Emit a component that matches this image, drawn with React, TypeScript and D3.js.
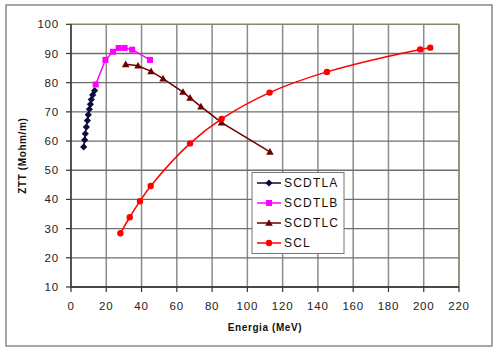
import React from "react";
import * as d3 from "d3";

const xTicks = [0, 20, 40, 60, 80, 100, 120, 140, 160, 180, 200, 220];
const yTicks = [10, 20, 30, 40, 50, 60, 70, 80, 90, 100];

const scdtlaX = [7.2, 7.75, 8.1, 8.7, 9.3, 9.8, 10.4, 11.0, 11.5, 12.3, 13.4];
const scdtlaY = [58.0, 60.4, 62.5, 64.8, 67.0, 69.0, 70.9, 72.6, 74.2, 75.8, 77.3];

const scdtlbX = [14.0, 19.5, 23.8, 27.0, 30.4, 34.7, 44.8];
const scdtlbY = [79.4, 87.8, 90.6, 91.9, 91.9, 91.3, 87.8];

const scdtlcX = [31.0, 38.0, 45.4, 52.2, 63.5, 67.5, 73.7, 85.4, 112.8];
const scdtlcY = [86.3, 85.8, 83.9, 81.4, 76.8, 74.8, 71.8, 66.3, 56.3];

const sclX = [28.0, 33.3, 39.1, 45.2, 67.5, 85.4, 112.6, 145.1, 198.0, 203.7];
const sclY = [28.4, 33.9, 39.4, 44.6, 59.2, 67.6, 76.6, 83.7, 91.4, 92.0];

const seriesNames = ["SCDTLA", "SCDTLB", "SCDTLC", "SCL"];
const seriesColors = ["#0b0b3d", "#ff00ff", "#6b0000", "#ff0000"];
const seriesShapes = ["diamond", "square", "triangle", "circle"];

const W = 499;
const H = 352;
const left = 71;
const right = 459;
const top = 24.3;
const bottom = 287;

function marker(shape: string, cx: number, cy: number, color: string, key: string | number) {
  if (shape === "diamond") {
    const s = 3.6;
    return <path key={key} d={`M${cx},${cy - s}L${cx + s},${cy}L${cx},${cy + s}L${cx - s},${cy}Z`} fill={color} />;
  }
  if (shape === "square") {
    const s = 3;
    return <rect key={key} x={cx - s} y={cy - s} width={2 * s} height={2 * s} fill={color} />;
  }
  if (shape === "triangle") {
    const s = 3.8;
    return <path key={key} d={`M${cx},${cy - s}L${cx + s},${cy + s * 0.75}L${cx - s},${cy + s * 0.75}Z`} fill={color} />;
  }
  return <circle key={key} cx={cx} cy={cy} r={3.2} fill={color} />;
}

export default function App() {
  const x = d3.scaleLinear().domain([0, 220]).range([left, right]);
  const y = d3.scaleLinear().domain([10, 100]).range([bottom, top]);

  const series = [
    { xs: scdtlaX, ys: scdtlaY, curve: d3.curveLinear },
    { xs: scdtlbX, ys: scdtlbY, curve: d3.curveLinear },
    { xs: scdtlcX, ys: scdtlcY, curve: d3.curveLinear },
    { xs: sclX, ys: sclY, curve: d3.curveCatmullRom.alpha(0.5) },
  ];

  const font = "Arial, 'Liberation Sans', sans-serif";

  return (
    <svg width={W} height={H} style={{ position: "absolute", left: 0, top: 0, background: "#fff" }} fontFamily={font}>
      <rect x={0} y={0} width={W} height={H} fill="#fff" />
      <rect x={6} y={5} width={486} height={341} fill="#fff" stroke="#8a8a8a" strokeWidth={1.5} />
      {/* gridlines */}
      {xTicks.map((t) => (
        <line key={"gx" + t} x1={x(t)} x2={x(t)} y1={top} y2={bottom} stroke="#8c8c8c" strokeWidth={1.5} />
      ))}
      {yTicks.map((t) => (
        <line key={"gy" + t} x1={left} x2={right} y1={y(t)} y2={y(t)} stroke="#6e6e6e" strokeWidth={1.3} />
      ))}
      {/* plot border */}
      <rect x={left} y={top} width={right - left} height={bottom - top} fill="none" stroke="#8a8a60" strokeWidth={1.2} />
      {/* axes */}
      <line x1={left} x2={left} y1={top} y2={bottom} stroke="#333" strokeWidth={1.3} />
      <line x1={left} x2={right} y1={bottom} y2={bottom} stroke="#333" strokeWidth={1.3} />
      {yTicks.map((t) => (
        <g key={"yt" + t}>
          <line x1={left - 5} x2={left} y1={y(t)} y2={y(t)} stroke="#333" strokeWidth={1.2} />
          <text x={59} y={y(t)} dy="0.35em" textAnchor="end" fontSize={11.5} fill="#222" letterSpacing={0.8}>
            {t}
          </text>
        </g>
      ))}
      {xTicks.map((t) => (
        <g key={"xt" + t}>
          <line x1={x(t)} x2={x(t)} y1={bottom} y2={bottom + 5} stroke="#333" strokeWidth={1.2} />
          <text x={x(t)} y={306} dy="0.35em" textAnchor="middle" fontSize={11.5} fill="#222" letterSpacing={0.8}>
            {t}
          </text>
        </g>
      ))}
      <text x={265} y={327} dy="0.35em" textAnchor="middle" fontSize={10} fontWeight="bold" fill="#111" letterSpacing={0.6}>
        Energia (MeV)
      </text>
      <text
        transform={`translate(22,${(top + bottom) / 2}) rotate(-90)`}
        textAnchor="middle"
        dy="0.35em"
        fontSize={10}
        fontWeight="bold"
        fill="#111"
        letterSpacing={0.6}
      >
        ZTT (Mohm/m)
      </text>
      {/* series */}
      {series.map((s, i) => {
        const pts: [number, number][] = s.xs.map((v, j) => [x(v), y(s.ys[j])]);
        const line = d3.line().curve(s.curve);
        return (
          <g key={"s" + i}>
            <path d={line(pts) || ""} fill="none" stroke={seriesColors[i]} strokeWidth={1.5} />
            {pts.map((p, j) => marker(seriesShapes[i], p[0], p[1], seriesColors[i], j))}
          </g>
        );
      })}
      {/* legend */}
      <rect x={252} y={172.5} width={92} height={81} fill="#fff" stroke="#777" strokeWidth={1} />
      {seriesNames.map((n, i) => {
        const ly = 183 + i * 20;
        return (
          <g key={"l" + i}>
            <line x1={257} x2={281} y1={ly} y2={ly} stroke={seriesColors[i]} strokeWidth={1.5} />
            {marker(seriesShapes[i], 269, ly, seriesColors[i], "m")}
            <text x={284} y={ly} dy="0.36em" fontSize={12} fill="#111" letterSpacing={1.2}>
              {n}
            </text>
          </g>
        );
      })}
    </svg>
  );
}
